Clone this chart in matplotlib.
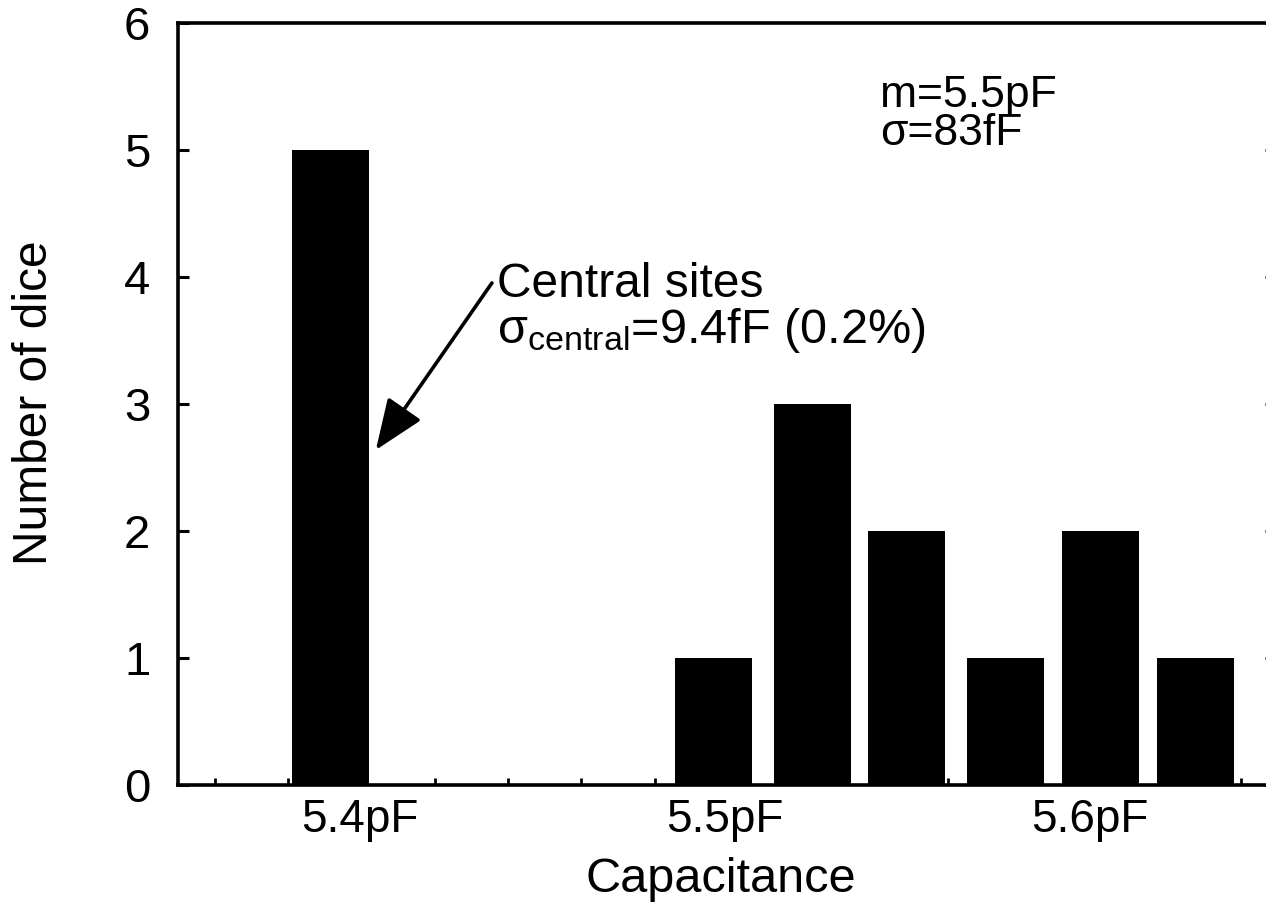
import numpy as np
import matplotlib
matplotlib.use("Agg")
import matplotlib.pyplot as plt

# datos del histograma (centros de clase en pF, número de dados)
centros = [5.392, 5.497, 5.524, 5.550, 5.577, 5.603, 5.629]
conteos = [5, 1, 3, 2, 1, 2, 1]
ancho = 0.0211

etiquetas_x = ["5.4pF", "5.5pF", "5.6pF"]
pos_etiquetas = [5.4, 5.5, 5.6]
ticks_menores = np.arange(5.3604, 5.645, 0.02008)

plt.rcParams["font.family"] = ["Liberation Sans", "DejaVu Sans"]
plt.rcParams["mathtext.default"] = "regular"

fig = plt.figure(figsize=(12.66, 9.02), dpi=100)
ax = fig.add_axes([178/1266, 117/902, 1098/1266, 762/902])

ax.bar(centros, conteos, width=ancho, color="black", zorder=3)

ax.set_xlim(5.3503, 5.6511)
ax.set_ylim(0, 6)

for s in ax.spines.values():
    s.set_linewidth(2.6)
    s.set_zorder(4)

ax.set_xticks(pos_etiquetas)
ax.set_xticklabels(etiquetas_x, fontsize=33)
ax.set_xticks(ticks_menores, minor=True)
ax.tick_params(axis="x", which="major", length=0, pad=9)
ax.tick_params(axis="x", which="minor", direction="in", length=5, width=2)

ax.set_yticks(range(0, 7))
ax.tick_params(axis="y", which="major", direction="in", length=8, width=2.2,
               labelsize=34, pad=20, right=True)

fig.text(35/1266, 1 - 403/902, "Number of dice", rotation=90, fontsize=34.5,
         ha="center", va="center")
fig.text(721/1266, 1 - 892/902, "Capacitance", fontsize=35,
         ha="center", va="baseline")

ax.text(5.5426, 5.339, "m=5.5pF", fontsize=32, va="baseline")
ax.text(5.5426, 5.039, "σ=83fF", fontsize=32, va="baseline")

ax.text(5.4377, 3.843, "Central sites", fontsize=34.5, va="baseline")
ax.text(5.4377, 3.48, r"σ$_{central}$=9.4fF (0.2%)", fontsize=35, va="baseline")

ax.annotate("", xy=(5.4045, 2.638), xytext=(5.4363, 3.953),
            arrowprops=dict(arrowstyle="-|>,head_length=0.45,head_width=0.18",
                            mutation_scale=70, color="black", lw=2.6,
                            shrinkA=0, shrinkB=0))

fig.savefig("out.png", dpi=100)
